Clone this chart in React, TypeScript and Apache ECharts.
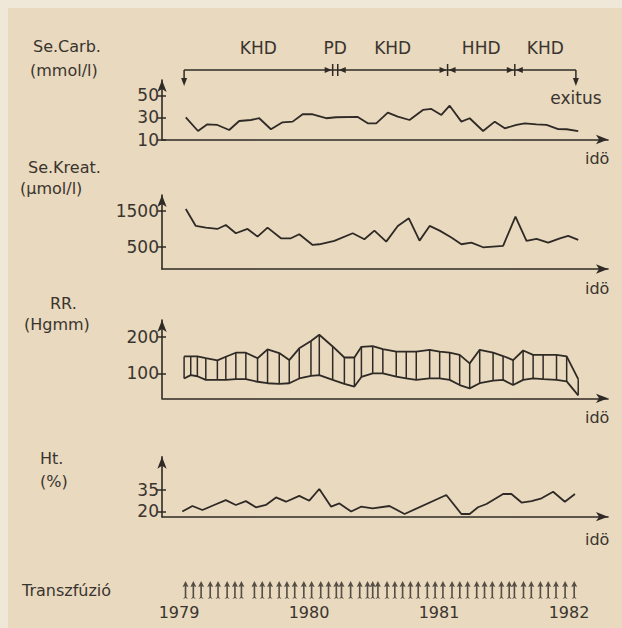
import React, { useEffect, useRef } from 'react';
import * as echarts from 'echarts';

// ---------- data (time in decimal years) ----------
const carbTime = [1979.052, 1979.146, 1979.218, 1979.295, 1979.386, 1979.463, 1979.553, 1979.617, 1979.707, 1979.796, 1979.874, 1979.951, 1980.028, 1980.131, 1980.208, 1980.375, 1980.452, 1980.517, 1980.606, 1980.683, 1980.773, 1980.876, 1980.941, 1981.018, 1981.082, 1981.172, 1981.236, 1981.339, 1981.429, 1981.506, 1981.596, 1981.66, 1981.75, 1981.827, 1981.917, 1981.982, 1982.071];
const carbValues = [30, 17.7, 23.8, 23.2, 18.6, 26.8, 27.7, 29.3, 19.3, 25.6, 26.2, 32.9, 32.9, 29.3, 30.2, 30.5, 24.7, 24.7, 34.4, 30.7, 27.7, 36.8, 37.7, 32.3, 40.7, 26.2, 29.3, 17.7, 26.2, 20.2, 23.2, 24.7, 23.8, 23.2, 19.5, 19.3, 17.7];

const kreatTime = [1979.052, 1979.129, 1979.206, 1979.295, 1979.36, 1979.437, 1979.527, 1979.604, 1979.681, 1979.784, 1979.861, 1979.925, 1980.028, 1980.079, 1980.195, 1980.336, 1980.426, 1980.503, 1980.594, 1980.683, 1980.768, 1980.85, 1980.928, 1981.005, 1981.095, 1981.172, 1981.249, 1981.339, 1981.493, 1981.588, 1981.673, 1981.75, 1981.84, 1981.93, 1981.994, 1982.071];
const kreatValues = [1558, 1086, 1039, 1002, 1113, 882, 1002, 789, 1039, 743, 743, 854, 558, 577, 669, 882, 715, 956, 651, 1086, 1298, 678, 1086, 956, 762, 577, 623, 493, 530, 1345, 669, 725, 623, 743, 808, 697];

const rrTime = [1979.039, 1979.09, 1979.141, 1979.206, 1979.295, 1979.36, 1979.437, 1979.514, 1979.604, 1979.681, 1979.771, 1979.848, 1979.925, 1980.015, 1980.079, 1980.182, 1980.272, 1980.349, 1980.403, 1980.49, 1980.568, 1980.671, 1980.748, 1980.825, 1980.928, 1981.005, 1981.082, 1981.159, 1981.236, 1981.313, 1981.416, 1981.493, 1981.57, 1981.647, 1981.724, 1981.801, 1981.904, 1981.982, 1982.071];
const rrSystolic = [146, 146, 146, 141, 135, 145, 156, 156, 141, 165, 155, 136, 168, 188, 205, 173, 143, 143, 172, 174, 166, 159, 159, 159, 164, 159, 156, 150, 127, 164, 156, 147, 136, 162, 150, 150, 150, 146, 84];
const rrDiastolic = [86, 95, 92, 82, 82, 82, 84, 84, 77, 73, 71, 73, 86, 93, 95, 82, 71, 64, 90, 100, 100, 91, 86, 82, 86, 86, 82, 68, 59, 73, 80, 82, 68, 82, 86, 84, 82, 78, 40];

const htTime = [1979.025, 1979.103, 1979.18, 1979.27, 1979.36, 1979.437, 1979.514, 1979.591, 1979.668, 1979.746, 1979.823, 1979.925, 1980.002, 1980.079, 1980.17, 1980.234, 1980.324, 1980.4, 1980.49, 1980.619, 1980.735, 1981.056, 1981.172, 1981.236, 1981.3, 1981.365, 1981.493, 1981.557, 1981.635, 1981.712, 1981.789, 1981.878, 1981.968, 1982.046];
const htValues = [19.8, 23.7, 20.9, 24.4, 27.8, 24.4, 27.1, 22.8, 24.4, 29.7, 26.7, 30.8, 27.4, 35.6, 23.2, 25.5, 19.8, 23.2, 22.1, 23.7, 18.1, 31.4, 18.1, 18.1, 22.8, 25.1, 32.1, 32.1, 26.1, 27.1, 29.1, 33.7, 26.7, 32.1];

const transfusionTime = [1979.05, 1979.11, 1979.17, 1979.24, 1979.3, 1979.37, 1979.43, 1979.48, 1979.58, 1979.64, 1979.7, 1979.77, 1979.83, 1979.89, 1979.96, 1980.02, 1980.09, 1980.15, 1980.21, 1980.25, 1980.32, 1980.39, 1980.45, 1980.49, 1980.53, 1980.6, 1980.66, 1980.72, 1980.78, 1980.84, 1980.91, 1980.97, 1981.03, 1981.1, 1981.16, 1981.22, 1981.29, 1981.35, 1981.41, 1981.48, 1981.54, 1981.58, 1981.65, 1981.71, 1981.78, 1981.84, 1981.9, 1981.97, 1982.04];

const periodLabels = ['KHD', 'PD', 'KHD', 'HHD', 'KHD'];
const periodStart = [1979.039, 1980.182, 1980.221, 1981.066, 1981.583];
const periodEnd = [1980.182, 1980.221, 1981.066, 1981.583, 1982.053];
const endLabel = 'exitus';

const yearTicks = [1979, 1980, 1981, 1982];
const carbTicks = [10, 30, 50];
const kreatTicks = [500, 1500];
const rrTicks = [100, 200];
const htTicks = [20, 35];

// ---------- styling ----------
const INK = '#2f2a25';
const TXT = '#3a342e';
const BG = '#e8d9bf';
const FONT = 'DejaVu Sans';
const X_MIN = 1978.869;
const X_MAX = 1982.3;
const LEFT = 162;
const RIGHT = 14;

const zip = (a: number[], b: number[]) => a.map((v, i) => [v, b[i]]);

export default function App() {
  const ref = useRef<HTMLDivElement>(null);

  useEffect(() => {
    document.body.style.margin = '0';
    const chart = echarts.init(ref.current!, null, { renderer: 'svg' });

    const grids = [
      { top: 40, height: 60 },
      { top: 80, height: 59.5 },
      { top: 195, height: 74 },
      { top: 320, height: 78.3 },
      { top: 456.7, height: 60 },
      { top: 580, height: 20 },
    ].map((g) => ({ ...g, left: LEFT, right: RIGHT, outerBoundsMode: 'none', containLabel: false }));

    const arrowLine = {
      show: true,
      onZero: false,
      symbol: ['none', 'arrow'],
      symbolSize: [7, 12],
      lineStyle: { color: INK, width: 1.6 },
    };

    const xAxes = grids.map((_, i) => {
      const visible = i >= 1 && i <= 4;
      return {
        type: 'value',
        gridIndex: i,
        min: X_MIN,
        max: X_MAX,
        axisLine: visible ? arrowLine : { show: false },
        axisTick: { show: false },
        splitLine: { show: false },
        axisLabel:
          i === 5
            ? {
                show: true,
                customValues: yearTicks,
                formatter: (v: number) => String(v),
                color: TXT,
                fontFamily: FONT,
                fontSize: 16,
                margin: 4,
              }
            : { show: false },
      };
    });

    const panelY = (gi: number, min: number, max: number, ticks: number[]) => [
      {
        type: 'value',
        gridIndex: gi,
        min,
        max,
        position: 'left',
        axisLine: arrowLine,
        axisTick: { show: true, customValues: ticks, length: 5, lineStyle: { color: INK, width: 1.5 } },
        axisLabel: {
          show: true,
          customValues: ticks,
          formatter: (v: number) => String(v),
          color: TXT,
          fontFamily: FONT,
          fontSize: 17,
          margin: 3,
        },
        splitLine: { show: false },
      },
      {
        type: 'value',
        gridIndex: gi,
        min,
        max,
        position: 'left',
        axisLine: { show: false },
        axisTick: { show: true, inside: true, customValues: ticks, length: 4, lineStyle: { color: INK, width: 1.5 } },
        axisLabel: { show: false },
        splitLine: { show: false },
      },
    ];

    const hiddenY = (gi: number) => ({
      type: 'value',
      gridIndex: gi,
      min: 0,
      max: 1,
      show: false,
    });

    const yAxes = [
      hiddenY(0),
      ...panelY(1, 10, 64, carbTicks),
      ...panelY(2, -110, 1945, kreatTicks),
      ...panelY(3, 32, 245, rrTicks),
      ...panelY(4, 16.2, 58.2, htTicks),
      hiddenY(5),
    ];

    const lineSeries = (xi: number, yi: number, data: number[][]) => ({
      type: 'line',
      xAxisIndex: xi,
      yAxisIndex: yi,
      data,
      symbol: 'none',
      lineStyle: { color: INK, width: 1.8 },
      silent: true,
    });

    const periodData = periodStart.map((s, i) => [s, periodEnd[i], i]);

    const timelineSeries = {
      type: 'custom',
      xAxisIndex: 0,
      yAxisIndex: 0,
      clip: false,
      data: periodData,
      renderItem: (params: any, api: any) => {
        const i = api.value(2);
        const x0 = api.coord([api.value(0), 0])[0];
        const x1 = api.coord([api.value(1), 0])[0];
        const cs = params.coordSys;
        const yL = cs.y + 30;
        const last = periodData.length - 1;
        const st = { stroke: INK, lineWidth: 1.5 };
        const ch: any[] = [];
        ch.push({ type: 'line', shape: { x1: x0, y1: yL, x2: x1, y2: yL }, style: st });
        ch.push({
          type: 'text',
          style: {
            text: periodLabels[i],
            x: (x0 + x1) / 2,
            y: cs.y + 8,
            align: 'center',
            verticalAlign: 'middle',
            fontFamily: FONT,
            fontSize: 17,
            fill: TXT,
          },
        });
        if (i > 0) {
          ch.push({ type: 'line', shape: { x1: x0, y1: yL - 6, x2: x0, y2: yL + 6 }, style: st });
        }
        if (x1 - x0 > 20) {
          if (i > 0) {
            ch.push({ type: 'polygon', shape: { points: [[x0 + 1, yL], [x0 + 8, yL - 3], [x0 + 8, yL + 3]] }, style: { fill: INK } });
          }
          if (i < last) {
            ch.push({ type: 'polygon', shape: { points: [[x1 - 1, yL], [x1 - 8, yL - 3], [x1 - 8, yL + 3]] }, style: { fill: INK } });
          }
        }
        if (i === 0) {
          ch.push({ type: 'line', shape: { x1: x0, y1: yL, x2: x0, y2: yL + 10 }, style: st });
          ch.push({ type: 'polygon', shape: { points: [[x0 - 3, yL + 8], [x0 + 3, yL + 8], [x0, yL + 16]] }, style: { fill: INK } });
        }
        if (i === last) {
          ch.push({ type: 'line', shape: { x1: x1, y1: yL, x2: x1, y2: yL + 10 }, style: st });
          ch.push({ type: 'polygon', shape: { points: [[x1 - 3, yL + 8], [x1 + 3, yL + 8], [x1, yL + 16]] }, style: { fill: INK } });
          ch.push({
            type: 'text',
            style: {
              text: endLabel,
              x: x1,
              y: yL + 28,
              align: 'center',
              verticalAlign: 'middle',
              fontFamily: FONT,
              fontSize: 17,
              fill: TXT,
            },
          });
        }
        return { type: 'group', children: ch };
      },
    };

    const rrHatch = {
      type: 'custom',
      xAxisIndex: 3,
      yAxisIndex: 5,
      clip: false,
      data: rrTime.map((t, i) => [t, rrSystolic[i], rrDiastolic[i]]),
      encode: { x: 0, y: [1, 2] },
      renderItem: (_p: any, api: any) => {
        const a = api.coord([api.value(0), api.value(1)]);
        const b = api.coord([api.value(0), api.value(2)]);
        return {
          type: 'line',
          shape: { x1: a[0], y1: a[1], x2: b[0], y2: b[1] },
          style: { stroke: INK, lineWidth: 1.5 },
        };
      },
    };

    const transfusion = {
      type: 'scatter',
      xAxisIndex: 5,
      yAxisIndex: 9,
      data: transfusionTime.map((t) => [t, 0.5]),
      symbol: 'path://M3,0 L6,6 L3.8,5.2 L3.8,16 L5.5,18 L3,17 L0.5,18 L2.2,16 L2.2,5.2 L0,6 Z',
      symbolSize: [6, 18],
      itemStyle: { color: INK },
      silent: true,
    };

    const sideText = (text: string, left: number, top: number) => ({
      type: 'text',
      left,
      top,
      style: { text, fontFamily: FONT, fontSize: 16, fill: TXT },
    });
    const idoText = (top: number) => ({
      type: 'text',
      left: 585,
      top,
      style: { text: 'idö', fontFamily: FONT, fontSize: 16, fill: TXT },
    });

    chart.setOption({
      animation: false,
      backgroundColor: BG,
      grid: grids,
      xAxis: xAxes,
      yAxis: yAxes,
      graphic: [
        {
          type: 'rect',
          left: 0,
          top: 0,
          shape: { width: 622, height: 628 },
          style: { fill: 'none', stroke: '#efe7d8', lineWidth: 8 },
          silent: true,
        },
        sideText('Se.Carb.', 33, 38),
        sideText('(mmol/l)', 30, 62),
        sideText('Se.Kreat.', 28, 159),
        sideText('(µmol/l)', 20, 180),
        sideText('RR.', 50, 295),
        sideText('(Hgmm)', 24, 316),
        sideText('Ht.', 40, 450),
        sideText('(%)', 40, 473),
        sideText('Transzfúzió', 22, 582),
        idoText(150),
        idoText(280),
        idoText(409),
        idoText(531),
      ],
      series: [
        timelineSeries,
        lineSeries(1, 1, zip(carbTime, carbValues)),
        lineSeries(2, 3, zip(kreatTime, kreatValues)),
        lineSeries(3, 5, zip(rrTime, rrSystolic)),
        lineSeries(3, 5, zip(rrTime, rrDiastolic)),
        rrHatch,
        lineSeries(4, 7, zip(htTime, htValues)),
        transfusion,
      ],
    });

    return () => chart.dispose();
  }, []);

  return (
    <div
      ref={ref}
      style={{ position: 'absolute', left: 0, top: 0, width: 622, height: 628 }}
    />
  );
}
